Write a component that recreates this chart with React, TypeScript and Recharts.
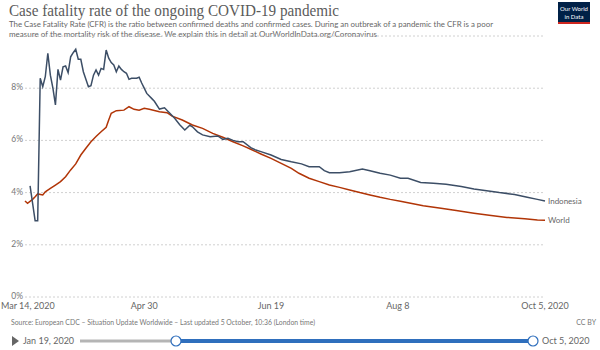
import { LineChart, Line, XAxis, YAxis, CartesianGrid, LabelList } from "recharts";

// days since Mar 14, 2020
const indonesiaDays = [
  2, 4, 5, 6, 7, 8, 9, 10, 11, 12, 13, 14, 15, 16, 17, 18, 19, 20, 21, 22, 23, 24, 25, 26, 27, 28, 29, 30,
  31, 32, 33, 34, 35, 36, 37, 38, 39, 40, 41, 42, 43, 44, 45, 46, 47, 48, 49, 50, 51, 53, 55, 57, 59, 61,
  63, 65, 66, 68, 70, 73, 76, 78, 80, 82, 84, 86, 89, 91, 93, 97, 101, 105, 109, 112, 116, 118, 120, 124,
  128, 133, 136, 140, 144, 148, 151, 156, 161, 166, 172, 177, 182, 187, 193, 198, 202, 205,
];
const indonesiaCfr = [
  4.26, 2.92, 2.92, 8.38, 8.06, 8.44, 9.34, 8.5, 8.0, 7.36, 8.72, 8.31, 8.82, 8.85, 8.6, 9.2, 9.36, 9.49,
  9.11, 9.11, 8.63, 8.34, 8.06, 8.1, 8.5, 8.7, 8.5, 8.76, 8.72, 9.46, 9.15, 8.98, 8.89, 8.63, 8.85, 8.72,
  8.63, 8.57, 8.34, 8.38, 8.38, 8.38, 8.42, 8.2, 8.0, 7.8, 7.7, 7.6, 7.5, 7.2, 7.25, 7.05, 6.85, 6.6, 6.4,
  6.58, 6.52, 6.33, 6.21, 6.14, 6.17, 6.04, 6.08, 6.0, 5.95, 5.95, 5.72, 5.63, 5.57, 5.44, 5.27, 5.18, 5.1,
  4.99, 4.99, 4.84, 4.76, 4.76, 4.8, 4.9, 4.84, 4.74, 4.67, 4.55, 4.55, 4.39, 4.36, 4.32, 4.23, 4.14, 4.07,
  4.0, 3.93, 3.82, 3.74, 3.68,
];

const worldDays = [
  0, 1, 3, 4, 5, 7, 8, 10, 12, 14, 16, 18, 20, 22, 24, 26, 28, 30, 32, 33, 34, 36, 39, 41, 43, 45, 47, 49,
  53, 56, 58, 62, 66, 70, 74, 78, 82, 86, 89, 93, 97, 101, 105, 108, 112, 116, 120, 124, 128, 132, 136, 140,
  144, 148, 151, 157, 164, 170, 177, 183, 190, 197, 202, 205,
];
const worldCfr = [
  3.68, 3.59, 3.74, 3.84, 3.95, 3.91, 4.03, 4.16, 4.29, 4.42, 4.61, 4.87, 5.1, 5.44, 5.7, 5.95, 6.15, 6.33,
  6.5, 6.78, 7.04, 7.14, 7.16, 7.29, 7.19, 7.16, 7.23, 7.19, 7.1, 7.06, 6.93, 6.78, 6.59, 6.46, 6.27, 6.12,
  5.95, 5.79, 5.66, 5.48, 5.31, 5.12, 4.93, 4.74, 4.55, 4.42, 4.29, 4.2, 4.1, 4.0, 3.91, 3.82, 3.74, 3.67,
  3.61, 3.5, 3.4, 3.31, 3.21, 3.13, 3.05, 3.0, 2.95, 2.94,
];

const tickDays = [0, 47, 97, 147, 205];
const tickLabels = ["Mar 14, 2020", "Apr 30", "Jun 19", "Aug 8", "Oct 5, 2020"];
const yTicks = [0, 2, 4, 6, 8];

const INDONESIA = "#3c4e66";
const WORLD = "#b13507";
const FONT = "Lato, 'Open Sans', sans-serif";

const indonesiaData = indonesiaDays.map((d, i) => ({
  day: d,
  cfr: indonesiaCfr[i],
  name: i === indonesiaDays.length - 1 ? "Indonesia" : undefined,
}));
const worldData = worldDays.map((d, i) => ({
  day: d,
  cfr: worldCfr[i],
  name: i === worldDays.length - 1 ? "World" : undefined,
}));

// first label sits flush with the left edge, like the original
const DateTick = (props: any) => {
  const { x, y, payload, index } = props;
  const label = tickLabels[tickDays.indexOf(payload.value)];
  const first = index === 0;
  return (
    <text
      x={first ? 1 : x}
      y={y}
      dy="0.71em"
      textAnchor={first ? "start" : "middle"}
      fill="#666"
      fontSize={9}
      fontFamily={FONT}
    >
      {label}
    </text>
  );
};

export default function App() {
  return (
    <div
      style={{
        position: "absolute",
        left: 0,
        top: 0,
        width: 600,
        height: 350,
        background: "#fff",
        overflow: "hidden",
        fontFamily: FONT,
      }}
    >
      {/* header */}
      <svg width={600} height={45} style={{ position: "absolute", left: 0, top: 0 }}>
        <text
          x={9}
          y={16}
          fontFamily="'Liberation Serif', serif"
          fontSize={17}
          fill="#5b5b5b"
          textLength={330}
          lengthAdjust="spacingAndGlyphs"
        >
          Case fatality rate of the ongoing COVID-19 pandemic
        </text>
        <text x={9} y={27} fontSize={8} fill="#666" textLength={484} lengthAdjust="spacingAndGlyphs">
          The Case Fatality Rate (CFR) is the ratio between confirmed deaths and confirmed cases. During an outbreak of a pandemic the CFR is a poor
        </text>
        <text x={9} y={36.5} fontSize={8} fill="#666" textLength={368} lengthAdjust="spacingAndGlyphs">
          measure of the mortality risk of the disease. We explain this in detail at OurWorldInData.org/Coronavirus
        </text>
        <rect x={558} y={2} width={32} height={22} fill="#002147" />
        <rect x={558} y={22} width={32} height={2} fill="#ce261e" />
        <text x={574} y={11} fontSize={6} fill="#fff" textAnchor="middle">Our World</text>
        <text x={574} y={18.5} fontSize={6} fill="#fff" textAnchor="middle">in Data</text>
      </svg>

      <LineChart
        width={600}
        height={350}
        margin={{ top: 36, right: 55, bottom: 33, left: 0 }}
        style={{ position: "absolute", left: 0, top: 0 }}
      >
        <CartesianGrid vertical={false} stroke="#d0d0d0" strokeDasharray="2 2" />
        <XAxis
          dataKey="day"
          type="number"
          domain={[0, 205]}
          ticks={tickDays}
          axisLine={false}
          tickLine={false}
          tickSize={0}
          tickMargin={6}
          height={20}
          interval={0}
          tick={<DateTick />}
          allowDuplicatedCategory={false}
        />
        <YAxis
          type="number"
          domain={[0, 10]}
          ticks={yTicks}
          tickFormatter={(v: number) => `${v}%`}
          axisLine={false}
          tickLine={false}
          tickSize={0}
          tickMargin={2}
          width={25}
          tick={{ fill: "#777", fontSize: 8.5, fontFamily: FONT, dy: -1 }}
        />
        <Line
          data={worldData}
          dataKey="cfr"
          type="linear"
          stroke={WORLD}
          strokeWidth={1.5}
          dot={false}
          isAnimationActive={false}
        >
          <LabelList dataKey="name" position="right" offset={3} fill="#666" fontSize={8} fontFamily={FONT} />
        </Line>
        <Line
          data={indonesiaData}
          dataKey="cfr"
          type="linear"
          stroke={INDONESIA}
          strokeWidth={1.5}
          dot={false}
          isAnimationActive={false}
        >
          <LabelList dataKey="name" position="right" offset={3} fill="#666" fontSize={8} fontFamily={FONT} />
        </Line>
      </LineChart>

      {/* footer */}
      <svg width={600} height={40} style={{ position: "absolute", left: 0, top: 310 }}>
        <text x={11} y={14.5} fontSize={7} fill="#777" textLength={304} lengthAdjust="spacingAndGlyphs">
          Source: European CDC – Situation Update Worldwide – Last updated 5 October, 10:36 (London time)
        </text>
        <text x={596} y={14.5} fontSize={7} fill="#777" textAnchor="end">CC BY</text>
        <polygon points="12,26 12,36 19,31" fill="#666" />
        <text x={23} y={34} fontSize={9} fill="#666">Jan 19, 2020</text>
        <line x1={80} y1={31} x2={176} y2={31} stroke="#b5b5b5" strokeWidth={3} />
        <line x1={176} y1={31} x2={533} y2={31} stroke="#2f6fbd" strokeWidth={4} />
        <circle cx={176} cy={31} r={5} fill="#fff" stroke="#2f6fbd" strokeWidth={1.2} />
        <circle cx={533} cy={31} r={5} fill="#fff" stroke="#2f6fbd" strokeWidth={1.2} />
        <text x={542} y={34} fontSize={9} fill="#666">Oct 5, 2020</text>
      </svg>
    </div>
  );
}
